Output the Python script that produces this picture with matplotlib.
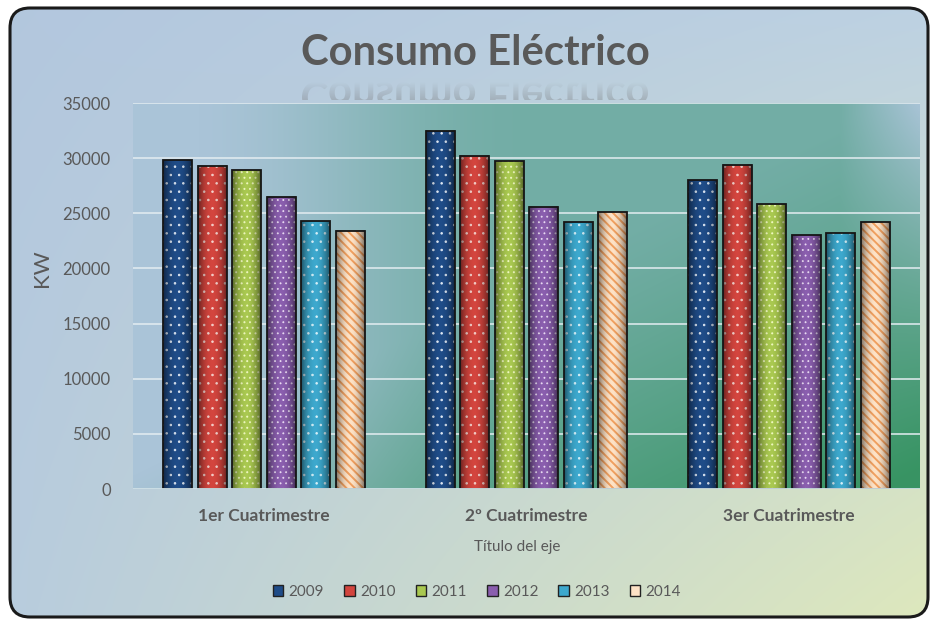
import numpy as np
import matplotlib.pyplot as plt
from matplotlib.patches import FancyBboxPatch, PathPatch, Patch
from matplotlib.textpath import TextPath
from matplotlib.font_manager import FontProperties
from matplotlib.transforms import Affine2D

plt.rcParams['font.family'] = ['Lato', 'DejaVu Sans']
plt.rcParams['hatch.linewidth'] = 1.4

# data
cuatrimestres = ['1er Cuatrimestre', '2º Cuatrimestre', '3er Cuatrimestre']
years = ['2009', '2010', '2011', '2012', '2013', '2014']
kw_2009 = [29800, 32500, 28000]
kw_2010 = [29300, 30200, 29400]
kw_2011 = [28900, 29700, 25800]
kw_2012 = [26500, 25600, 23000]
kw_2013 = [24300, 24200, 23200]
kw_2014 = [23400, 25100, 24200]
series = [kw_2009, kw_2010, kw_2011, kw_2012, kw_2013, kw_2014]

faces = ['#1f4c88', '#d3453e', '#a9c850', '#8a5eae', '#3da8cd', '#fde2c6']
hatch_cols = ['#dfe8f3', '#f3d2cc', '#eef7bf', '#eadcf3', '#d8f0f8', '#f0a060']
hatches = ['..', '..', '...', '...', '..', '\\\\\\\\']
hatch_lw = [0.6, 0.6, 0.7, 0.6, 0.6, 1.4]
grey = '#595959'

W, H = 933, 619
fig = plt.figure(figsize=(W / 100, H / 100), dpi=100)

# ---- outer background with rounded frame ----
bg = fig.add_axes([0, 0, 1, 1])
bg.axis('off')
uu, vv = np.meshgrid(np.linspace(0, 1, 240), np.linspace(0, 1, 240))
uu, vv = uu[..., None], vv[..., None]
tl = np.array([0.70, 0.78, 0.87])
tr = np.array([0.74, 0.82, 0.89])
bl = np.array([0.72, 0.80, 0.87])
br = np.array([0.87, 0.91, 0.74])
img = tl * (1 - uu) * (1 - vv) + tr * uu * (1 - vv) + bl * (1 - uu) * vv + br * uu * vv
im = bg.imshow(img, extent=(0, W, 0, H), origin='upper', aspect='auto',
               interpolation='bilinear')
frame = FancyBboxPatch((10, 2), 918, 609, boxstyle='round,pad=0,rounding_size=20',
                       fc='none', ec='#1a1a1a', lw=2.2, zorder=5)
bg.add_patch(frame)
im.set_clip_path(frame)

# title + its reflection (font size picked so the title is ~346 px wide)
title = 'Consumo Eléctrico'
fp = FontProperties(family='Lato', weight='bold')
probe = TextPath((0, 0), title, size=100, prop=fp).get_extents()
tsize_px = 100 * 346 / probe.width
bg.text(475, H - 65, title, ha='center', va='baseline', fontsize=tsize_px * 0.72,
        color=grey, fontweight='bold')
tp = TextPath((0, 0), title, size=tsize_px, prop=fp)
ext = tp.get_extents()
tform = Affine2D().translate(-(ext.x0 + ext.x1) / 2, 0).scale(1, -1).translate(475, H - 82)
refl = PathPatch(tform.transform_path(tp), fc='none', ec='none')
bg.add_patch(refl)
fade = np.zeros((40, 2, 4))
fade[..., :3] = 0.45
fade[..., 3] = np.linspace(0.0, 0.32, 40)[:, None]
rim = bg.imshow(fade, extent=(280, 670, H - 100, H - 82), origin='upper', aspect='auto')
rim.set_clip_path(refl)

bg.text(42, H - 268, 'KW', rotation=90, ha='center', va='center', fontsize=16, color=grey)
bg.text(517, H - 547, 'Título del eje', ha='center', va='center', fontsize=11, color=grey)
bg.set_xlim(0, W)
bg.set_ylim(0, H)

# ---- plot area ----
ax = fig.add_axes([133 / W, 130 / H, 787 / W, 386 / H])
pu, pv = np.meshgrid(np.linspace(0, 1, 300), np.linspace(0, 1, 200))
blue = np.array([0.67, 0.77, 0.85])
teal = np.array([0.45, 0.68, 0.65])
green = np.array([0.22, 0.58, 0.39])
t = np.clip((pu - 0.05) / 0.45, 0, 1)
t = t * t * (3 - 2 * t)
edge = np.clip((pu - 0.9) / 0.1, 0, 1) * (1 - pv)
t = t * (1 - edge)
g = np.clip((pu + pv - 0.95) / 1.0, 0, 1) ** 1.2
pimg = blue * (1 - t[..., None]) + teal * t[..., None]
pimg = pimg * (1 - g[..., None]) + green * g[..., None]
ax.imshow(pimg, extent=(-0.5, 2.5, 0, 35000), origin='upper', aspect='auto',
          interpolation='bilinear', zorder=0)

yt = np.arange(0, 35001, 5000)
for yv in yt[1:]:
    ax.axhline(yv, color='#e4edf1', lw=1.3, alpha=0.85, zorder=1)
ax.axhline(0, color='#cfe0e6', lw=1.3, zorder=5)

x = np.arange(len(cuatrimestres))
step, width = 0.1315, 0.11
shade = np.zeros((2, 60, 4))
s = np.linspace(-1, 1, 60)
shade[..., 3] = 0.5 * np.abs(s) ** 2.0
for i, vals in enumerate(series):
    pos = x + (i - 2.5) * step
    bars = ax.bar(pos, vals, width, color=faces[i], edgecolor=hatch_cols[i],
                  linewidth=0, hatch=hatches[i], zorder=2)
    for b in bars:
        if hasattr(b, 'set_hatch_linewidth'):
            b.set_hatch_linewidth(hatch_lw[i])
        ax.imshow(shade, extent=(b.get_x(), b.get_x() + b.get_width(), 0, b.get_height()),
                  aspect='auto', zorder=3)
    ax.bar(pos, vals, width, fill=False, edgecolor='#151515', linewidth=1.3, zorder=4)

ax.set_xlim(-0.5, 2.5)
ax.set_ylim(0, 35000)
ax.set_yticks(yt)
ax.set_xticks(x)
ax.set_xticklabels(cuatrimestres, fontweight='bold')
ax.tick_params(axis='y', length=0, pad=16, labelsize=12, labelcolor=grey)
ax.tick_params(axis='x', length=0, pad=14, labelsize=12.5, labelcolor=grey)
for sp in ax.spines.values():
    sp.set_visible(False)

handles = [Patch(facecolor=faces[i], edgecolor='#222222', lw=1.0) for i in range(6)]
fig.legend(handles, years, loc='center', bbox_to_anchor=(477 / W, 27 / H), ncol=6,
           frameon=False, fontsize=11, labelcolor=grey, handlelength=0.7,
           handleheight=0.7, handletextpad=0.35, columnspacing=1.3)

fig.savefig('out.png', dpi=100)
